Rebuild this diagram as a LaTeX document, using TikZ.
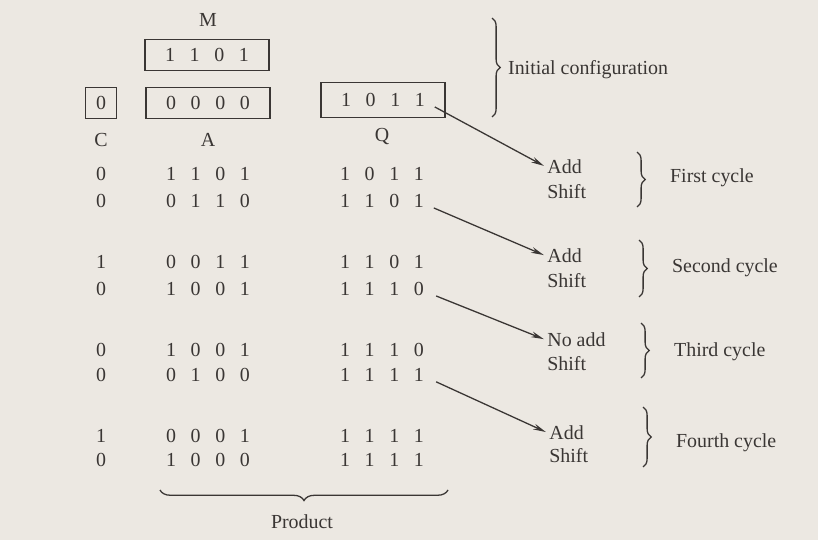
\documentclass[tikz,border=0pt]{standalone}
\usepackage{fontspec}
\setmainfont{Liberation Serif}
\usetikzlibrary{arrows.meta,decorations.pathreplacing,fit}
\definecolor{paper}{RGB}{236,232,226}
\definecolor{ink}{RGB}{58,54,52}
\newcommand{\regbits}[4]{\makebox[21pt]{#1}\makebox[21pt]{#2}\makebox[21pt]{#3}\makebox[21pt]{#4}}

\begin{document}
\begin{tikzpicture}[x=0.03cm, y=-0.03cm,
    every node/.style={text=ink, font=\fontsize{17}{21}\selectfont},
    bits/.style={inner sep=0pt},
    regbox/.style={draw=ink, line width=1.1pt, inner xsep=10.7pt, inner ysep=7pt},
    steplabel/.style={anchor=west, inner sep=1pt},
    cyclelabel/.style={anchor=west},
    pointer/.style={draw=ink, line width=1.1pt, -{Stealth[length=11pt, width=5pt]}, shorten >=2pt},
    curly/.style={draw=ink, line width=1.1pt, decorate, decoration={brace, amplitude=7pt}}]
   \fill[paper] (0,0) rectangle (818,540);
   \useasboundingbox (0,0) rectangle (818,540);
   % initial configuration
   \node (Mlab) at (208,20) {M};
   \node[bits] (m) at (207,55) {\regbits{1}{1}{0}{1}};
   \node[bits] (c0) at (101,103) {0};
   \node[bits] (a0) at (208,103) {\regbits{0}{0}{0}{0}};
   \node[bits] (q0) at (383,100) {\regbits{1}{0}{1}{1}};
   \node[regbox, fit=(m)] (mbox) {};
   \node[regbox, inner xsep=8.5pt, fit=(c0)] (cbox) {};
   \node[regbox, fit=(a0)] (abox) {};
   \node[regbox, inner ysep=8.7pt, fit=(q0)] (qbox) {};
   \node (Clab) at (101,140) {C};
   \node (Alab) at (208,140) {A};
   \node (Qlab) at (382,137) {Q};
   % register contents cycle by cycle
   \node[bits] (c1) at (101,174) {0};
   \node[bits] (a1) at (208,174) {\regbits{1}{1}{0}{1}};
   \node[bits] (q1) at (382,174) {\regbits{1}{0}{1}{1}};
   \node[bits] (c2) at (101,201) {0};
   \node[bits] (a2) at (208,201) {\regbits{0}{1}{1}{0}};
   \node[bits] (q2) at (382,201) {\regbits{1}{1}{0}{1}};
   \node[bits] (c3) at (101,262) {1};
   \node[bits] (a3) at (208,262) {\regbits{0}{0}{1}{1}};
   \node[bits] (q3) at (382,262) {\regbits{1}{1}{0}{1}};
   \node[bits] (c4) at (101,289) {0};
   \node[bits] (a4) at (208,289) {\regbits{1}{0}{0}{1}};
   \node[bits] (q4) at (382,289) {\regbits{1}{1}{1}{0}};
   \node[bits] (c5) at (101,350) {0};
   \node[bits] (a5) at (208,350) {\regbits{1}{0}{0}{1}};
   \node[bits] (q5) at (382,350) {\regbits{1}{1}{1}{0}};
   \node[bits] (c6) at (101,375) {0};
   \node[bits] (a6) at (208,375) {\regbits{0}{1}{0}{0}};
   \node[bits] (q6) at (382,375) {\regbits{1}{1}{1}{1}};
   \node[bits] (c7) at (101,436) {1};
   \node[bits] (a7) at (208,436) {\regbits{0}{0}{0}{1}};
   \node[bits] (q7) at (382,436) {\regbits{1}{1}{1}{1}};
   \node[bits] (c8) at (101,460) {0};
   \node[bits] (a8) at (208,460) {\regbits{1}{0}{0}{0}};
   \node[bits] (q8) at (382,460) {\regbits{1}{1}{1}{1}};
   % operations
   \node[steplabel] (ad1) at (546,167) {Add};
   \node[steplabel] (sh1) at (546,192) {Shift};
   \node[steplabel] (ad2) at (546,256) {Add};
   \node[steplabel] (sh2) at (546,281) {Shift};
   \node[steplabel] (ad3) at (546,340) {No add};
   \node[steplabel] (sh3) at (546,364) {Shift};
   \node[steplabel] (ad4) at (548,433) {Add};
   \node[steplabel] (sh4) at (548,456) {Shift};
   \draw[pointer] ([xshift=2pt]q0.south east) to (ad1.west);
   \draw[pointer] ([xshift=2pt]q2.south east) to (ad2.west);
   \draw[pointer] ([xshift=4pt]q4.south east) to (ad3.west);
   \draw[pointer] ([xshift=4pt]q6.south east) to (ad4.west);
   % braces
   \draw[curly] (492,18) -- (492,117);
   \node[cyclelabel] (init) at (504,70) {Initial configuration};
   \draw[curly] (637,152) -- (637,207);
   \node[cyclelabel] (cyc1) at (666,178) {First cycle};
   \draw[curly] (639,240) -- (639,297);
   \node[cyclelabel] (cyc2) at (668,268) {Second cycle};
   \draw[curly] (641,323) -- (641,378);
   \node[cyclelabel] (cyc3) at (670,352) {Third cycle};
   \draw[curly] (643,407) -- (643,467);
   \node[cyclelabel] (cyc4) at (672,443) {Fourth cycle};
   \draw[curly, decoration={brace, amplitude=9pt}] (448,490) -- (160,490);
   \node (prod) at (302,522) {Product};
\end{tikzpicture}
\end{document}
